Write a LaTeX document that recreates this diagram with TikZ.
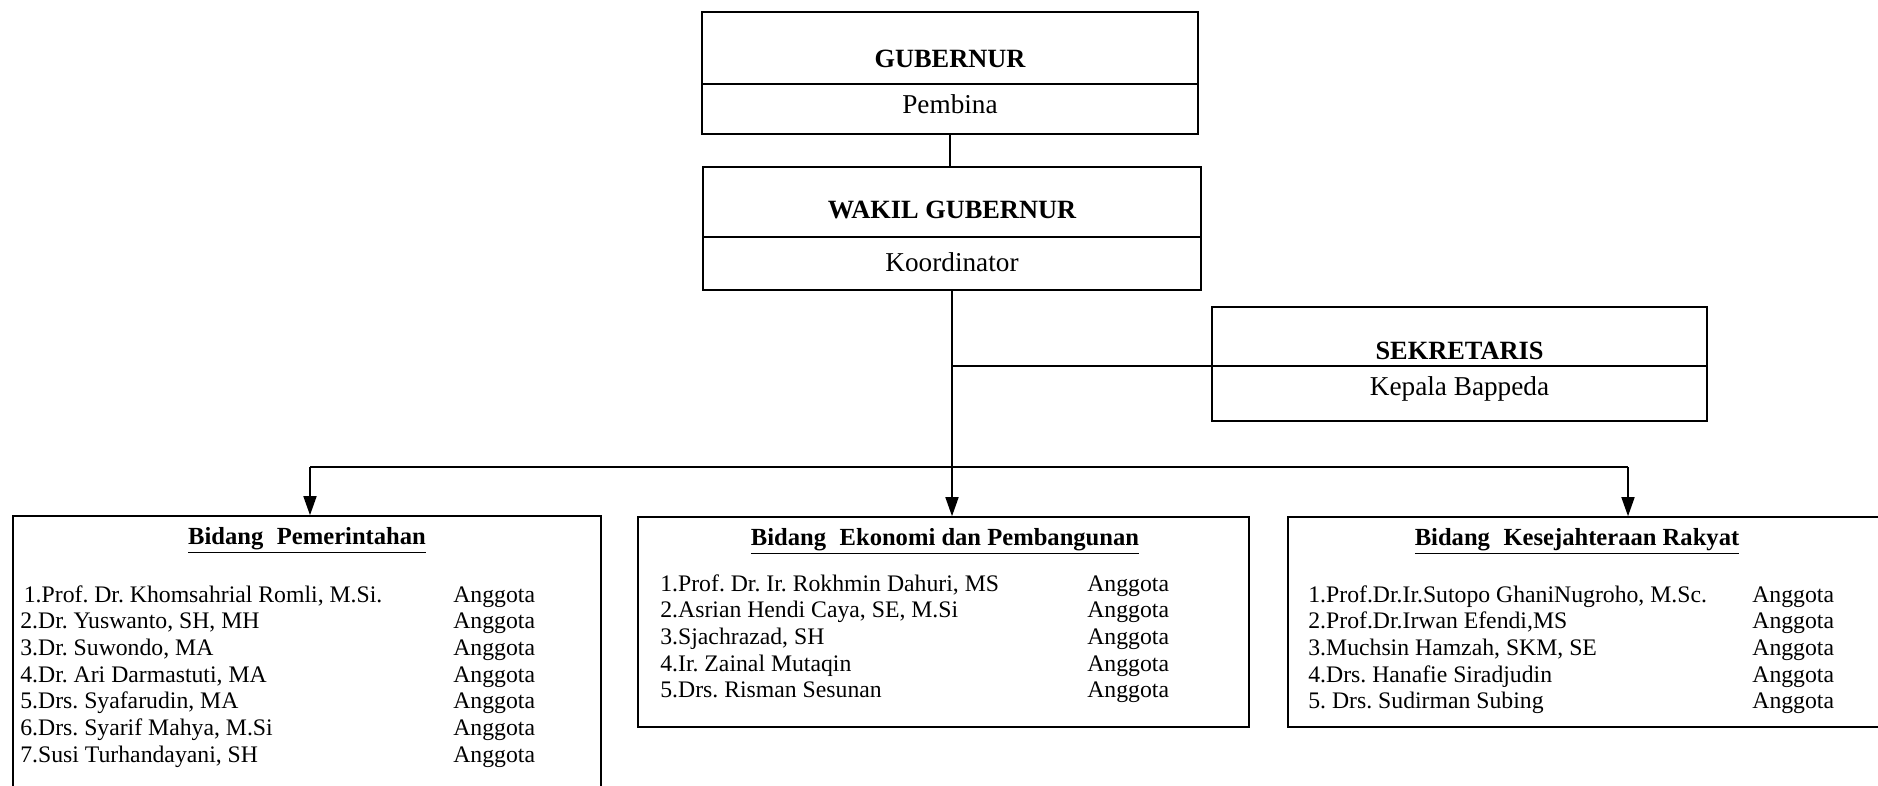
\documentclass[tikz,border=0pt]{standalone}
\usepackage{fontspec}
\setmainfont{Liberation Serif}
\usetikzlibrary{arrows.meta,positioning}
\frenchspacing
\tikzset{
  orgbox/.style={draw,line width=0.9pt,inner sep=0pt},
  ttl/.style={font=\fontsize{15}{18}\selectfont\bfseries},
  subttl/.style={font=\fontsize{15.5}{18}\selectfont},
  bidhd/.style={font=\fontsize{14}{17}\selectfont\bfseries},
  lst/.style={font=\fontsize{13.5}{15.2}\selectfont,anchor=base west,inner sep=0pt},
  con/.style={line width=0.9pt},
  conarr/.style={-{Triangle[length=0.38cm,width=0.26cm]},line width=0.9pt}
}

\begin{document}
\begin{tikzpicture}
  \useasboundingbox (0,0) rectangle (37.56,-15.7);
  % Gubernur and Wakil Gubernur
  \node[orgbox,minimum width=9.92cm,minimum height=2.44cm] (gub) at (19.0,-1.46) {};
  \draw[con] ([yshift=-0.22cm]gub.west) -- ([yshift=-0.22cm]gub.east);
  \node[ttl] (gubT) at (19.0,-1.18) {GUBERNUR};
  \node[subttl] (gubS) at (19.0,-2.08) {Pembina};
  \node[orgbox,minimum width=9.96cm,minimum height=2.46cm] (wakil) at (19.04,-4.57) {};
  \draw[con] ([yshift=-0.17cm]wakil.west) -- ([yshift=-0.17cm]wakil.east);
  \node[ttl] (wakilT) at (19.04,-4.20) {WAKIL GUBERNUR};
  \node[subttl] (wakilS) at (19.04,-5.24) {Koordinator};
  \draw[con] (gub.south) -- (gub.south |- wakil.north);
  % Sekretaris
  \node[orgbox,minimum width=9.90cm,minimum height=2.28cm] (sek) at (29.19,-7.28) {};
  \coordinate (sekL) at ([yshift=-0.04cm]sek.west);
  \draw[con] (sekL) -- ([yshift=-0.04cm]sek.east);
  \node[ttl] (sekT) at (29.19,-7.02) {SEKRETARIS};
  \node[subttl] (sekS) at (29.19,-7.78) {Kepala Bappeda};
  \draw[con] (wakil.south |- sekL) -- (sekL);
  % Bidang boxes
  \node[orgbox,minimum width=11.76cm,minimum height=5.68cm] (pem) at (6.14,-13.16) {};
  \node[orgbox,minimum width=12.22cm,minimum height=4.2cm] (eko) at (18.87,-12.44) {};
  \node[orgbox,minimum width=12.24cm,minimum height=4.2cm] (kes) at (31.88,-12.44) {};
  % bus and arrows
  \coordinate (busL) at (6.2,-9.34);
  \coordinate (busR) at (32.56,-9.34);
  \draw[con] (busL) -- (busR);
  \draw[conarr] (busL) -- (busL |- pem.north);
  \draw[conarr] (busR) -- (busR |- kes.north);
  \draw[conarr] (wakil.south) -- (wakil.south |- eko.north);
  % Bidang Pemerintahan
  \node[bidhd] (pemH) at (6.14,-10.80) {\underline{Bidang\hspace{0.3em} Pemerintahan}};
  \node[lst] (pemL) at (0.4,-12.04) {\begin{tabular}[t]{@{}p{8.66cm}@{}l@{}}
    \hspace{2pt}1.Prof. Dr. Khomsahrial Romli, M.Si. & Anggota\\
    2.Dr. Yuswanto, SH, MH & Anggota\\
    3.Dr. Suwondo, MA & Anggota\\
    4.Dr. Ari Darmastuti, MA & Anggota\\
    5.Drs. Syafarudin, MA & Anggota\\
    6.Drs. Syarif Mahya, M.Si & Anggota\\
    7.Susi Turhandayani, SH & Anggota
  \end{tabular}};
  % Bidang Ekonomi dan Pembangunan
  \node[bidhd] (ekoH) at (18.9,-10.82) {\underline{Bidang\hspace{0.3em} Ekonomi dan Pembangunan}};
  \node[lst] (ekoL) at (13.2,-11.82) {\begin{tabular}[t]{@{}p{8.54cm}@{}l@{}}
    1.Prof. Dr. Ir. Rokhmin Dahuri, MS & Anggota\\
    2.Asrian Hendi Caya, SE, M.Si & Anggota\\
    3.Sjachrazad, SH & Anggota\\
    4.Ir. Zainal Mutaqin & Anggota\\
    5.Drs. Risman Sesunan & Anggota
  \end{tabular}};
  % Bidang Kesejahteraan Rakyat
  \node[bidhd] (kesH) at (31.54,-10.82) {\underline{Bidang\hspace{0.3em} Kesejahteraan Rakyat}};
  \node[lst] (kesL) at (26.16,-12.04) {\begin{tabular}[t]{@{}p{8.88cm}@{}l@{}}
    1.Prof.Dr.Ir.Sutopo GhaniNugroho, M.Sc. & Anggota\\
    2.Prof.Dr.Irwan Efendi,MS & Anggota\\
    3.Muchsin Hamzah, SKM, SE & Anggota\\
    4.Drs. Hanafie Siradjudin & Anggota\\
    5. Drs. Sudirman Subing & Anggota
  \end{tabular}};
\end{tikzpicture}
\end{document}
